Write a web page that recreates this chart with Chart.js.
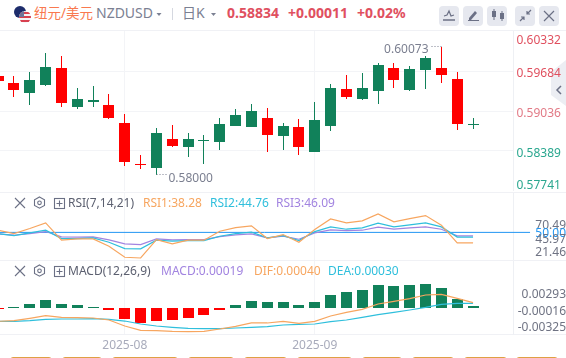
<!DOCTYPE html>
<html lang="zh">
<head>
  <meta charset="UTF-8">
  <title>NZDUSD</title>
  <script src="https://cdn.jsdelivr.net/npm/chart.js"></script>
  <style>
    * { margin: 0; padding: 0; box-sizing: border-box; }
    body {
      width: 566px; height: 358px; overflow: hidden; position: relative;
      background: #fff; font-family: 'Noto Sans', 'Noto Sans CJK SC', sans-serif;
    }
    canvas { position: absolute; left: 0; }
    .t { position: absolute; white-space: nowrap; line-height: 18px; height: 18px; }
    .hd { font-size: 14px; top: 4px; }
    .up { color: #e0505f; font-weight: 700; }
    .pane { font-size: 12px; }
    .line { position: absolute; background: #f0f1f5; }
    .btn { position: absolute; top: 6px; width: 20px; height: 20px; border-radius: 4px; background: #e6e8ef; }
    .foot { position: absolute; top: 357px; height: 8px; border: 1px solid #dfa043; border-radius: 3px; }
    svg { position: absolute; overflow: visible; }
  </style>
</head>
<body>
  <div class="line" style="left:0;top:30px;width:566px;height:1px"></div>
  <div class="line" style="left:0;top:192px;width:566px;height:1px"></div>
  <div class="line" style="left:0;top:260px;width:566px;height:1px"></div>
  <div class="line" style="left:0;top:334px;width:566px;height:1px"></div>

  <!-- collapse tab behind the price axis -->
  <svg style="left:0;top:0" width="566" height="130">
    <path d="M566 60L551 72V95L566 106z" fill="#eceef3"/>
    <path d="M561 86l-4 4 4 4" fill="none" stroke="#6b7085" stroke-width="1.500"/>
  </svg>

  <canvas id="priceChart" width="566" height="160" style="top:31px"></canvas>
  <canvas id="rsiChart" width="566" height="67" style="top:193px"></canvas>
  <canvas id="macdChart" width="566" height="97" style="top:261px"></canvas>

  <!-- header -->
  <svg style="left:0;top:0" width="40" height="30">
    <defs>
      <clipPath id="us"><circle cx="25" cy="17" r="6"/></clipPath>
    </defs>
    <circle cx="20" cy="12" r="6" fill="#1d2c6b"/>
    <circle cx="25" cy="17" r="6" fill="#f3f3f6"/>
    <g clip-path="url(#us)" fill="#d8404f">
      <rect x="18" y="12" width="14" height="2"/>
      <rect x="18" y="16" width="14" height="2"/>
      <rect x="18" y="20" width="14" height="2"/>
      <rect x="19" y="11" width="5" height="6" fill="#6f7398"/>
    </g>
  </svg>
  <span class="t hd" style="left:34px;color:#f9794f;font-size:13.500px">纽元/美元</span>
  <span class="t hd" style="left:96px;color:#7b8092">NZDUSD</span>
  <svg style="left:0;top:0" width="230" height="30" fill="#7b8092">
    <path d="M156.500 13h5l-2.500 3z"/>
    <path d="M211 13h5l-2.500 3z"/>
    <rect x="172" y="8" width="1" height="12" fill="#d5d8e0"/>
  </svg>
  <span class="t hd" style="left:182px;color:#7b8092">日K</span>
  <span class="t hd up" style="left:227px">0.58834</span>
  <span class="t hd up" style="left:288px">+0.00011</span>
  <span class="t hd up" style="left:357px">+0.02%</span>

  <div class="btn" style="left:439px"></div>
  <div class="btn" style="left:463px"></div>
  <div class="btn" style="left:487px"></div>
  <div class="btn" style="left:515px"></div>
  <div class="btn" style="left:539px"></div>
  <svg style="left:0;top:0" width="566" height="30" fill="none" stroke="#6b7085" stroke-width="1.500">
    <path d="M444 16l3-1 2-4 2 5 3-1" stroke-width="1.200"/>
    <path d="M443 20h12"/>
    <path d="M469 18l6-7 2 2-6 7h-2z" fill="#6b7085" stroke="none"/>
    <path d="M468 20.500h11" stroke-width="1"/>
    <path d="M494 9v11M502 11v10" stroke-width="1"/>
    <rect x="492" y="11" width="4" height="6" fill="#6b7085" stroke="none"/>
    <rect x="500" y="13" width="4" height="6" fill="#6b7085" stroke="none"/>
    <path d="M520 21l4-4M531 10l-4 4M524 20v-3h-3M527 11v3h3" stroke-width="1.200"/>
    <path d="M544 11l10 10M554 11l-10 10" stroke-width="1.200"/>
  </svg>

  <!-- pane headers -->
  <svg style="left:0;top:0" width="70" height="290" fill="none" stroke="#6b7085" stroke-width="1.100">
    <path d="M15 198l10 10M25 198l-10 10"/>
    <path d="M39.500 197l5 2.800v5.600l-5 2.800-5-2.800v-5.600z"/>
    <circle cx="39.500" cy="202.800" r="1.800"/>
    <rect x="54.500" y="198.500" width="10" height="10"/>
    <path d="M59.500 200.500v6M56.500 203.500h6"/>
    <path d="M15 266l10 10M25 266l-10 10"/>
    <path d="M39.500 265l5 2.800v5.600l-5 2.800-5-2.800v-5.600z"/>
    <circle cx="39.500" cy="270.800" r="1.800"/>
    <rect x="54.500" y="266.500" width="10" height="10"/>
    <path d="M59.500 268.500v6M56.500 271.500h6"/>
  </svg>
  <span class="t pane" style="left:68px;top:194px;color:#5c6070">RSI(7,14,21)</span>
  <span class="t pane" style="left:143px;top:194px;color:#f7a660">RSI1:38.28</span>
  <span class="t pane" style="left:210px;top:194px;color:#2fbfdc">RSI2:44.76</span>
  <span class="t pane" style="left:276px;top:194px;color:#a284e0">RSI3:46.09</span>
  <span class="t pane" style="left:68px;top:262px;color:#5c6070">MACD(12,26,9)</span>
  <span class="t pane" style="left:161px;top:262px;color:#a284e0">MACD:0.00019</span>
  <span class="t pane" style="left:254px;top:262px;color:#f7a660">DIF:0.00040</span>
  <span class="t pane" style="left:328px;top:262px;color:#2fbfdc">DEA:0.00030</span>

  <!-- tops of the buttons cut off by the window -->
  <div class="foot" style="left:10px;width:42px"></div>
  <div class="foot" style="left:62px;width:40px"></div>
  <div class="foot" style="left:112px;width:66px"></div>
  <div class="foot" style="left:188px;width:46px"></div>
  <div class="foot" style="left:244px;width:43px"></div>
  <div class="foot" style="left:297px;width:55px"></div>
  <div class="foot" style="left:362px;width:40px"></div>
  <div class="foot" style="left:412px;width:42px"></div>
  <div class="foot" style="left:464px;width:43px"></div>
  <div class="foot" style="left:516px;width:42px"></div>

  <script>
    // daily candles
    const opens = [0.59603, 0.59490, 0.59328, 0.59458, 0.59733, 0.59101, 0.59182, 0.59134, 0.58842, 0.58178, 0.58113,
      0.58583, 0.58453, 0.58551, 0.58534, 0.58794, 0.58777, 0.58923, 0.58632, 0.58777, 0.58373,
      0.58794, 0.59393, 0.59231, 0.59360, 0.59733, 0.59377, 0.59700, 0.59733, 0.59555, 0.58823];
    const closes = [0.59522, 0.59377, 0.59539, 0.59749, 0.59166, 0.59231, 0.59215, 0.58923, 0.58211, 0.58162, 0.58680,
      0.58470, 0.58583, 0.58567, 0.58826, 0.58972, 0.59036, 0.58648, 0.58794, 0.58453, 0.58891,
      0.59409, 0.59263, 0.59409, 0.59781, 0.59539, 0.59717, 0.59895, 0.59619, 0.58826, 0.58834];
    const highs = [0.59603, 0.59603, 0.59668, 0.59976, 0.59927, 0.59409, 0.59441, 0.59312, 0.58988, 0.58324, 0.58761,
      0.58810, 0.58680, 0.58648, 0.58923, 0.59069, 0.59150, 0.59085, 0.58842, 0.58907, 0.59182,
      0.59474, 0.59619, 0.59652, 0.59814, 0.59814, 0.59765, 0.59927, 0.60073, 0.59668, 0.58923];
    const lows = [0.59522, 0.59263, 0.59134, 0.59441, 0.59101, 0.59069, 0.59101, 0.58907, 0.58146, 0.58097, 0.58000,
      0.58453, 0.58292, 0.58178, 0.58405, 0.58794, 0.58777, 0.58373, 0.58405, 0.58324, 0.58373,
      0.58713, 0.59231, 0.59215, 0.59150, 0.59409, 0.59360, 0.59393, 0.59490, 0.58729, 0.58745];

    const rsi1 = [52.41, 48.70, 54.27, 60.59, 41.27, 42.76, 42.76, 34.58, 22.32, 21.46, 42.01,
      37.18, 41.27, 41.27, 51.30, 55.39, 57.24, 43.13, 47.59, 39.04, 53.16,
      65.05, 60.59, 62.82, 70.49, 61.70, 65.42, 68.76, 57.99, 38.30, 38.28];
    const rsi2 = [48.70, 46.47, 49.44, 52.41, 43.13, 43.13, 43.87, 39.04, 31.98, 31.61, 41.27,
      40.16, 40.90, 40.90, 45.73, 48.70, 50.19, 43.87, 46.47, 40.90, 50.93,
      56.13, 53.53, 55.01, 60.21, 56.13, 58.36, 60.59, 56.13, 44.80, 44.76];
    const rsi3 = [48.33, 46.84, 48.70, 50.93, 44.99, 44.61, 44.99, 41.64, 37.18, 36.44, 42.76,
      41.64, 42.01, 42.01, 45.36, 47.21, 48.33, 43.87, 45.73, 42.38, 49.44,
      52.79, 52.04, 52.41, 55.76, 53.53, 55.01, 56.13, 53.53, 46.12, 46.09];
    const rsiLevel = 50;

    const macd = [-0.00009, 0.00009, 0.00047, 0.00099, 0.00047, 0.00034, 0.00009, -0.00026, -0.00142, -0.00202, -0.00172,
      -0.00159, -0.00133, -0.00094, -0.00026, 0.00034, 0.00086, 0.00073, 0.00073, 0.00034, 0.00073,
      0.00163, 0.00202, 0.00227, 0.00292, 0.00279, 0.00292, 0.00305, 0.00253, 0.00112, 0.00019];
    const dif = [-0.00176, -0.00167, -0.00137, -0.00103, -0.00124, -0.00129, -0.00133, -0.00159, -0.00236, -0.00292, -0.00296,
      -0.00305, -0.00309, -0.00305, -0.00275, -0.00240, -0.00197, -0.00197, -0.00176, -0.00202, -0.00176,
      -0.00107, -0.00060, -0.00021, 0.00047, 0.00082, 0.00116, 0.00163, 0.00172, 0.00120, 0.00064];
    const dea = [-0.00176, -0.00176, -0.00167, -0.00150, -0.00146, -0.00146, -0.00142, -0.00150, -0.00172, -0.00210, -0.00236,
      -0.00253, -0.00266, -0.00270, -0.00270, -0.00262, -0.00253, -0.00245, -0.00223, -0.00215, -0.00210,
      -0.00180, -0.00159, -0.00124, -0.00090, -0.00060, -0.00030, 0.00004, 0.00043, 0.00056, 0.00056];

    // x axis
    const xTickIndex = [8, 20];
    const xTickLabels = ['2025-08', '2025-09'];

    // axis labels, and where the original pulls them in from the pane edges
    const priceLabels = ['0.60332', '0.59684', '0.59036', '0.58389', '0.57741'];
    const priceLabelAt = [0.60218, 0.59684, 0.59036, 0.58389, 0.57870];
    const priceLabelColors = ['#e0505f', '#e0505f', '#e27a86', '#2aa78f', '#2aa78f'];
    const rsiLabels = ['70.49', '50.00', '45.97', '21.46'];
    const rsiLabelAt = [58.73, 49.44, 42.76, 29.01];
    const macdLabels = ['0.00293', '-0.00016', '-0.00325'];
    const macdLabelAt = [0.00184, -0.00030, -0.00232];

    const highLabel = '0.60073';
    const lowLabel = '0.58000';

    const UP = '#11815a', DOWN = '#ff0000', GRID = '#f3f4f7', TICK = '#6f7383';
    const ORANGE = '#f7a660', CYAN = '#2fbfdc', PURPLE = '#a284e0';
    const FONT = { family: "'Noto Sans', sans-serif", size: 12 };
    const X_MIN = 0.116, X_MAX = 32.523;
    const index = opens.map((_, i) => i);

    // bars land on whole pixels like the original, no blurry edges
    const snapBars = {
      id: 'snapBars',
      beforeDatasetsDraw(chart) {
        chart.data.datasets.forEach((ds, n) => {
          if (ds.type !== 'bar') return;
          chart.getDatasetMeta(n).data.forEach(b => {
            b.x = Math.floor(b.x) + 0.5;
            b.y = Math.round(b.y);
            b.base = Math.round(b.base);
            if (b.base === b.y) b.base += 1; // doji still gets a visible body
          });
        });
      }
    };

    const extremes = {
      id: 'extremes',
      afterDatasetsDraw(chart) {
        const { ctx, scales } = chart;
        const hi = highs.indexOf(Math.max(...highs));
        const lo = lows.indexOf(Math.min(...lows));
        const hx = Math.floor(scales.x.getPixelForValue(hi)) + 0.5, hy = scales.y.getPixelForValue(highs[hi]);
        const lx = Math.floor(scales.x.getPixelForValue(lo)) + 0.5, ly = scales.y.getPixelForValue(lows[lo]);
        ctx.save();
        ctx.strokeStyle = ctx.fillStyle = '#7b7f90';
        ctx.font = `${FONT.size}px ${FONT.family}`;
        ctx.setLineDash([1, 2]);
        ctx.beginPath();
        ctx.moveTo(hx - 10, hy - 0.5); ctx.lineTo(hx, hy - 0.5);
        ctx.moveTo(lx, ly - 0.5); ctx.lineTo(lx + 10, ly - 0.5);
        ctx.stroke();
        ctx.textBaseline = 'middle';
        ctx.textAlign = 'right';
        ctx.fillText(highLabel, hx - 13, hy + 3);
        ctx.textAlign = 'left';
        ctx.fillText(lowLabel, lx + 12, ly + 4);
        ctx.restore();
      }
    };

    function xAxis(showLabels) {
      return {
        type: 'linear',
        min: X_MIN,
        max: X_MAX,
        offset: false,
        border: { display: false },
        grid: { color: GRID, drawTicks: false, offset: false },
        afterBuildTicks: ax => { ax.ticks = xTickIndex.map(v => ({ value: v })); },
        afterFit: ax => {
          ax.height = showLabels ? 24 : 0;
          ax.paddingLeft = ax.paddingRight = 0;
        },
        ticks: {
          display: showLabels,
          autoSkip: false,
          maxRotation: 0,
          padding: 4,
          color: '#a8abbb',
          font: FONT,
          callback: v => xTickLabels[xTickIndex.indexOf(v)]
        }
      };
    }

    function yAxis(min, max, at, labels, extra) {
      return Object.assign({
        position: 'right',
        min: min,
        max: max,
        border: { color: '#eef0f4' },
        grid: { display: false, drawTicks: false },
        afterBuildTicks: ax => { ax.ticks = at.map(v => ({ value: v })); },
        afterFit: ax => {
          ax.width = 53;
          ax.paddingTop = ax.paddingBottom = 0;
        }
      }, extra(labels, at));
    }

    function baseOptions(scales) {
      return {
        responsive: false,
        animation: false,
        events: [],
        layout: { padding: 0 },
        plugins: { legend: { display: false }, tooltip: { enabled: false } },
        scales: scales
      };
    }

    function lineSet(values, color) {
      return {
        type: 'line',
        data: values.map((v, i) => ({ x: index[i], y: v })),
        borderColor: color,
        borderWidth: 1.2,
        pointRadius: 0,
        tension: 0
      };
    }

    const barBase = { type: 'bar', grouped: false, borderWidth: 0, inflateAmount: 0 };
    const candleColors = opens.map((o, i) => closes[i] >= o ? UP : DOWN);

    new Chart(document.getElementById('priceChart'), {
      type: 'bar',
      data: {
        datasets: [
          Object.assign({}, barBase, {
            data: index.map(i => ({ x: i, y: [lows[i], highs[i]] })),
            backgroundColor: candleColors,
            barThickness: 1,
            order: 2
          }),
          Object.assign({}, barBase, {
            data: index.map(i => ({ x: i, y: [opens[i], closes[i]] })),
            backgroundColor: candleColors,
            barThickness: 11,
            order: 1
          })
        ]
      },
      options: baseOptions({
        x: xAxis(false),
        y: yAxis(0.57741, 0.60332, priceLabelAt, priceLabels, (labels, at) => ({
          grid: {
            drawTicks: false,
            color: ctx => (ctx.index === 0 || ctx.index === at.length - 1) ? 'transparent' : GRID
          },
          ticks: {
            autoSkip: false,
            padding: 3.5,
            labelOffset: 2.5,
            font: FONT,
            color: ctx => priceLabelColors[ctx.index],
            callback: (v, i) => labels[i]
          }
        }))
      }),
      plugins: [snapBars, extremes]
    });

    const levelLine = lineSet([rsiLevel, rsiLevel], '#2196f3');
    levelLine.data = [{ x: -1, y: rsiLevel }, { x: 33.6, y: rsiLevel }];
    levelLine.clip = false;
    levelLine.borderWidth = 1;

    new Chart(document.getElementById('rsiChart'), {
      type: 'line',
      data: {
        datasets: [lineSet(rsi1, ORANGE), lineSet(rsi2, CYAN), lineSet(rsi3, PURPLE), levelLine]
      },
      options: baseOptions({
        x: xAxis(false),
        y: yAxis(19.23, 93.89, rsiLabelAt, rsiLabels, labels => ({
          ticks: {
            autoSkip: false,
            crossAlign: 'far',
            padding: 17,
            labelOffset: 1,
            font: FONT,
            color: ctx => ctx.index === 1 ? '#2196f3' : TICK,
            callback: (v, i) => labels[i]
          }
        }))
      }),
      plugins: []
    });

    new Chart(document.getElementById('macdChart'), {
      type: 'bar',
      data: {
        datasets: [
          Object.assign({}, barBase, {
            data: index.map(i => ({ x: i, y: macd[i] })),
            backgroundColor: macd.map(v => v >= 0 ? UP : DOWN),
            barThickness: 11,
            order: 2
          }),
          Object.assign(lineSet(dif, ORANGE), { order: 1 }),
          Object.assign(lineSet(dea, CYAN), { order: 1 })
        ]
      },
      options: baseOptions({
        x: xAxis(true),
        y: yAxis(-0.00339, 0.00601, macdLabelAt, macdLabels, labels => ({
          ticks: {
            autoSkip: false,
            crossAlign: 'far',
            padding: -0.5,
            labelOffset: 1.5,
            font: FONT,
            color: TICK,
            callback: (v, i) => labels[i]
          }
        }))
      }),
      plugins: [snapBars]
    });
  </script>
</body>
</html>
